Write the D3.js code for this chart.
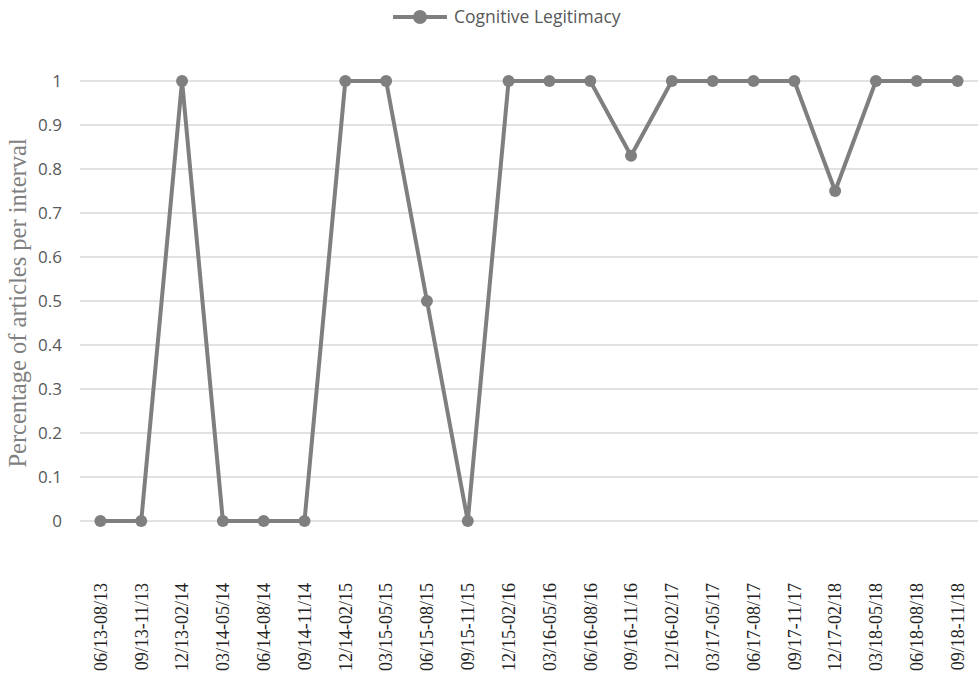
<!DOCTYPE html>
<html>
<head>
<meta charset="utf-8">
<script src="https://cdn.jsdelivr.net/npm/d3@7"></script>
<style>
  html, body { margin: 0; padding: 0; background: #fff; }
  svg { display: block; }
</style>
</head>
<body>
<svg id="chart" width="978" height="683"></svg>
<script>
// Quarterly intervals and the share of articles per interval
const categories = [
  "06/13-08/13", "09/13-11/13", "12/13-02/14", "03/14-05/14", "06/14-08/14",
  "09/14-11/14", "12/14-02/15", "03/15-05/15", "06/15-08/15", "09/15-11/15",
  "12/15-02/16", "03/16-05/16", "06/16-08/16", "09/16-11/16", "12/16-02/17",
  "03/17-05/17", "06/17-08/17", "09/17-11/17", "12/17-02/18", "03/18-05/18",
  "06/18-08/18", "09/18-11/18"
];
const cognitiveLegitimacy = [
  0, 0, 1, 0, 0, 0, 1, 1, 0.5, 0, 1, 1, 1, 0.83, 1, 1, 1, 1, 0.75, 1, 1, 1
];
const yTicks = [0, 0.1, 0.2, 0.3, 0.4, 0.5, 0.6, 0.7, 0.8, 0.9, 1];
const seriesName = "Cognitive Legitimacy";

const svg = d3.select("#chart");
const margin = { left: 80, right: 0, top: 81, bottom: 162 };
const W = 978, H = 683;
const lineColor = "#7f7f7f";
const sans = "'Open Sans', 'Liberation Sans', sans-serif";
const serif = "'Liberation Serif', 'Times New Roman', serif";

const x = d3.scaleBand().domain(categories).range([margin.left, W - margin.right]);
const y = d3.scaleLinear().domain([0, 1]).range([H - margin.bottom, margin.top]);

// Horizontal gridlines
svg.append("g")
  .selectAll("line")
  .data(yTicks)
  .join("line")
  .attr("x1", margin.left)
  .attr("x2", W - margin.right)
  .attr("y1", d => y(d))
  .attr("y2", d => y(d))
  .attr("stroke", "#d9d9d9")
  .attr("stroke-width", 1.5);

// Y axis labels
const yAxis = d3.axisLeft(y).tickValues(yTicks).tickSize(0).tickPadding(0)
  .tickFormat(d => d3.format("~g")(d));
svg.append("g")
  .attr("transform", `translate(${margin.left - 18},0)`)
  .call(yAxis)
  .call(g => g.select(".domain").remove())
  .call(g => g.selectAll("text")
    .attr("fill", "#595959")
    .attr("font-family", sans)
    .attr("font-size", 17));

// X axis labels, rotated
const xAxis = d3.axisBottom(x).tickSize(0).tickPadding(0);
svg.append("g")
  .attr("transform", `translate(0,${H - margin.bottom})`)
  .attr("font-family", serif)
  .call(xAxis)
  .call(g => g.select(".domain").remove())
  .call(g => g.selectAll("text")
    .attr("fill", "#222")
    .style("font-family", serif)
    .attr("font-size", 18)
    .attr("text-anchor", "end")
    .attr("dy", "0.35em")
    .attr("transform", "translate(0,62) rotate(-90)")
    .attr("x", 0)
    .attr("y", 0));

// Y axis title
svg.append("text")
  .attr("transform", `translate(26,303) rotate(-90)`)
  .attr("text-anchor", "middle")
  .attr("fill", "#7f7f7f")
  .attr("font-family", serif)
  .attr("font-size", 24.5)
  .text("Percentage of articles per interval");

// Series line
const line = d3.line()
  .x((d, i) => x(categories[i]) + x.bandwidth() / 2)
  .y(d => y(d));
svg.append("path")
  .datum(cognitiveLegitimacy)
  .attr("d", line)
  .attr("fill", "none")
  .attr("stroke", lineColor)
  .attr("stroke-width", 4)
  .attr("stroke-linejoin", "round");

// Markers
svg.append("g")
  .selectAll("circle")
  .data(cognitiveLegitimacy)
  .join("circle")
  .attr("cx", (d, i) => x(categories[i]) + x.bandwidth() / 2)
  .attr("cy", d => y(d))
  .attr("r", 6)
  .attr("fill", lineColor);

// Legend
const legend = svg.append("g").attr("transform", "translate(393,17)");
legend.append("line")
  .attr("x1", 0).attr("x2", 54).attr("y1", 0).attr("y2", 0)
  .attr("stroke", lineColor).attr("stroke-width", 4);
legend.append("circle")
  .attr("cx", 27).attr("cy", 0).attr("r", 7).attr("fill", lineColor);
legend.append("text")
  .attr("x", 61).attr("y", 0).attr("dy", "0.35em")
  .attr("fill", "#595959")
  .attr("font-family", sans)
  .attr("font-size", 17.5)
  .text(seriesName);
</script>
</body>
</html>
